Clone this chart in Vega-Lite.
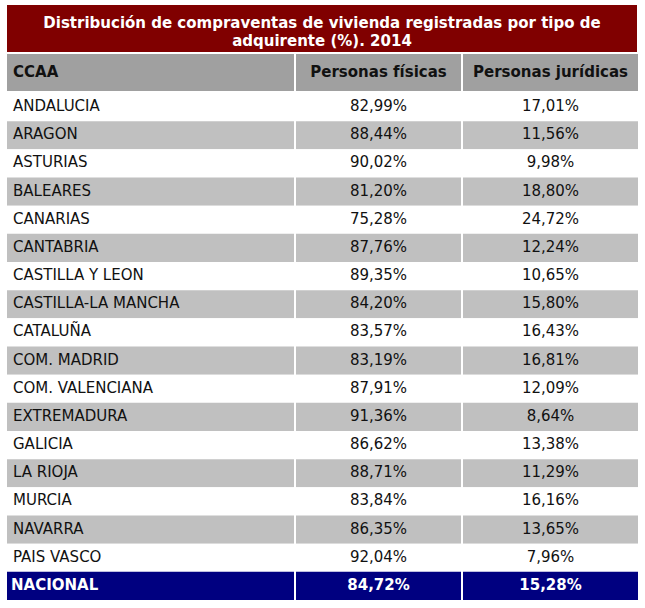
{
  "$schema": "https://vega.github.io/schema/vega-lite/v6.json",
  "padding": {"left": 7, "top": 5, "right": 0, "bottom": 0},
  "background": "white",
  "config": {
    "view": {"stroke": null},
    "concat": {"spacing": 2},
    "locale": {"number": {"decimal": ",", "thousands": ".", "grouping": [3], "currency": ["", " €"]}},
    "text": {"font": "DejaVu Sans"}
  },
  "datasets": {
    "filas": [
      {"ccaa": "ANDALUCIA", "fisicas": 0.8299, "juridicas": 0.1701},
      {"ccaa": "ARAGON", "fisicas": 0.8844, "juridicas": 0.1156},
      {"ccaa": "ASTURIAS", "fisicas": 0.9002, "juridicas": 0.0998},
      {"ccaa": "BALEARES", "fisicas": 0.8120, "juridicas": 0.1880},
      {"ccaa": "CANARIAS", "fisicas": 0.7528, "juridicas": 0.2472},
      {"ccaa": "CANTABRIA", "fisicas": 0.8776, "juridicas": 0.1224},
      {"ccaa": "CASTILLA Y LEON", "fisicas": 0.8935, "juridicas": 0.1065},
      {"ccaa": "CASTILLA-LA MANCHA", "fisicas": 0.8420, "juridicas": 0.1580},
      {"ccaa": "CATALUÑA", "fisicas": 0.8357, "juridicas": 0.1643},
      {"ccaa": "COM. MADRID", "fisicas": 0.8319, "juridicas": 0.1681},
      {"ccaa": "COM. VALENCIANA", "fisicas": 0.8791, "juridicas": 0.1209},
      {"ccaa": "EXTREMADURA", "fisicas": 0.9136, "juridicas": 0.0864},
      {"ccaa": "GALICIA", "fisicas": 0.8662, "juridicas": 0.1338},
      {"ccaa": "LA RIOJA", "fisicas": 0.8871, "juridicas": 0.1129},
      {"ccaa": "MURCIA", "fisicas": 0.8384, "juridicas": 0.1616},
      {"ccaa": "NAVARRA", "fisicas": 0.8635, "juridicas": 0.1365},
      {"ccaa": "PAIS VASCO", "fisicas": 0.9204, "juridicas": 0.0796},
      {"ccaa": "NACIONAL", "fisicas": 0.8472, "juridicas": 0.1528}
    ]
  },
  "vconcat": [
    {
      "width": 630,
      "height": 47,
      "view": {"fill": "#800000", "stroke": null},
      "data": {"values": [{"titulo": "Distribución de compraventas de vivienda registradas por tipo de\nadquirente (%). 2014"}]},
      "mark": {"type": "text", "color": "white", "fontWeight": "bold", "fontSize": 15, "lineBreak": "\n", "lineHeight": 18, "align": "center", "baseline": "middle", "dy": -6},
      "encoding": {"text": {"field": "titulo"}}
    },
    {
      "hconcat": [
        {
          "width": 287, "height": 37,
          "view": {"fill": "#a0a0a0", "stroke": null},
          "data": {"values": [{"h": "CCAA"}]},
          "mark": {"type": "text", "align": "left", "baseline": "middle", "fontWeight": "bold", "fontSize": 15, "color": "#111", "dy": -1},
          "encoding": {"x": {"value": 6}, "text": {"field": "h"}}
        },
        {
          "width": 165, "height": 37,
          "view": {"fill": "#a0a0a0", "stroke": null},
          "data": {"values": [{"h": "Personas físicas"}]},
          "mark": {"type": "text", "align": "center", "baseline": "middle", "fontWeight": "bold", "fontSize": 15, "color": "#111", "dy": -1},
          "encoding": {"text": {"field": "h"}}
        },
        {
          "width": 175, "height": 37,
          "view": {"fill": "#a0a0a0", "stroke": null},
          "data": {"values": [{"h": "Personas jurídicas"}]},
          "mark": {"type": "text", "align": "center", "baseline": "middle", "fontWeight": "bold", "fontSize": 15, "color": "#111", "dy": -1},
          "encoding": {"text": {"field": "h"}}
        }
      ]
    },
    {
      "hconcat": [
        {
          "width": 287, "height": 507,
          "data": {"name": "filas"},
          "transform": [{"window": [{"op": "row_number", "as": "n"}]}],
          "encoding": {"y": {"field": "ccaa", "type": "nominal", "sort": null, "axis": null, "scale": {"paddingInner": 0, "paddingOuter": 0}}},
          "layer": [
            {"mark": {"type": "rect"}, "encoding": {"fill": {"condition": [{"test": "datum.ccaa === 'NACIONAL'", "value": "#000080"}, {"test": "datum.n % 2 === 0", "value": "#c0c0c0"}], "value": "white"}}},
            {"transform": [{"filter": "datum.ccaa !== 'NACIONAL'"}], "mark": {"type": "text", "align": "left", "baseline": "middle", "fontSize": 15, "color": "#111", "dy": -1}, "encoding": {"x": {"value": 6}, "text": {"field": "ccaa"}}},
            {"transform": [{"filter": "datum.ccaa === 'NACIONAL'"}], "mark": {"type": "text", "align": "left", "baseline": "middle", "fontSize": 15, "fontWeight": "bold", "color": "white", "dy": -1}, "encoding": {"x": {"value": 4}, "text": {"field": "ccaa"}}}
          ]
        },
        {
          "width": 165, "height": 507,
          "data": {"name": "filas"},
          "transform": [{"window": [{"op": "row_number", "as": "n"}]}],
          "encoding": {"y": {"field": "ccaa", "type": "nominal", "sort": null, "axis": null, "scale": {"paddingInner": 0, "paddingOuter": 0}}},
          "layer": [
            {"mark": {"type": "rect"}, "encoding": {"fill": {"condition": [{"test": "datum.ccaa === 'NACIONAL'", "value": "#000080"}, {"test": "datum.n % 2 === 0", "value": "#c0c0c0"}], "value": "white"}}},
            {"transform": [{"filter": "datum.ccaa !== 'NACIONAL'"}], "mark": {"type": "text", "align": "center", "baseline": "middle", "fontSize": 15, "color": "#111", "dy": -1}, "encoding": {"text": {"field": "fisicas", "type": "quantitative", "format": ".2%"}}},
            {"transform": [{"filter": "datum.ccaa === 'NACIONAL'"}], "mark": {"type": "text", "align": "center", "baseline": "middle", "fontSize": 15, "fontWeight": "bold", "color": "white", "dy": -1}, "encoding": {"text": {"field": "fisicas", "type": "quantitative", "format": ".2%"}}}
          ]
        },
        {
          "width": 175, "height": 507,
          "data": {"name": "filas"},
          "transform": [{"window": [{"op": "row_number", "as": "n"}]}],
          "encoding": {"y": {"field": "ccaa", "type": "nominal", "sort": null, "axis": null, "scale": {"paddingInner": 0, "paddingOuter": 0}}},
          "layer": [
            {"mark": {"type": "rect"}, "encoding": {"fill": {"condition": [{"test": "datum.ccaa === 'NACIONAL'", "value": "#000080"}, {"test": "datum.n % 2 === 0", "value": "#c0c0c0"}], "value": "white"}}},
            {"transform": [{"filter": "datum.ccaa !== 'NACIONAL'"}], "mark": {"type": "text", "align": "center", "baseline": "middle", "fontSize": 15, "color": "#111", "dy": -1}, "encoding": {"text": {"field": "juridicas", "type": "quantitative", "format": ".2%"}}},
            {"transform": [{"filter": "datum.ccaa === 'NACIONAL'"}], "mark": {"type": "text", "align": "center", "baseline": "middle", "fontSize": 15, "fontWeight": "bold", "color": "white", "dy": -1}, "encoding": {"text": {"field": "juridicas", "type": "quantitative", "format": ".2%"}}}
          ]
        }
      ]
    }
  ]
}
